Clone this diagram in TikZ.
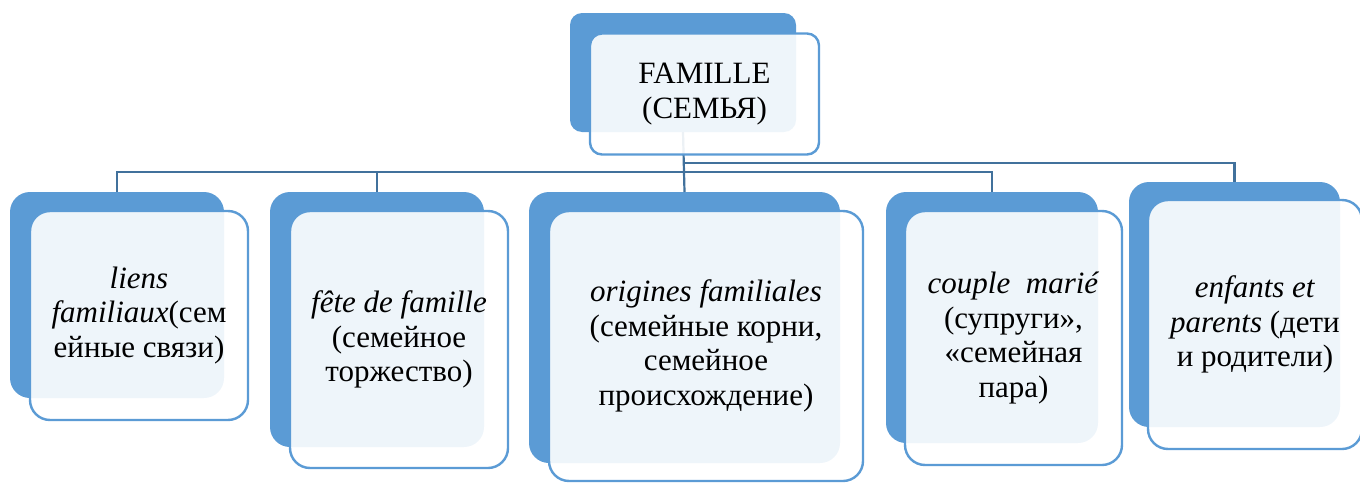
\documentclass[tikz,border=0pt]{standalone}
\usepackage{fontspec}
\setmainfont{Liberation Serif}
\definecolor{boxblue}{RGB}{91,155,213}
\definecolor{lineblue}{RGB}{65,113,156}
\tikzset{
  backbox/.style={fill=boxblue, draw=none, rounded corners=20pt, inner sep=0pt, outer sep=0pt},
  frontbox/.style={fill=white, fill opacity=0.9, text opacity=1, draw=boxblue, line width=2.4pt,
     rounded corners=20pt, inner sep=0pt, outer sep=0pt, align=center, text=black,
     font=\fontsize{31}{34.5}\selectfont},
  conn/.style={draw=lineblue, line width=2.2pt}
}
\begin{document}
\begin{tikzpicture}[x=1pt,y=-1pt]
\useasboundingbox (0,0) rectangle (1360,482);
% back boxes
\node[backbox, rounded corners=12pt, minimum width=226pt, minimum height=119pt] (b0) at (683,72.5) {};
\node[backbox, minimum width=214pt, minimum height=206pt] (b1) at (117,295) {};
\node[backbox, minimum width=214pt, minimum height=255pt] (b2) at (377,319.5) {};
\node[backbox, minimum width=311pt, minimum height=271pt] (b3) at (684.5,327.5) {};
\node[backbox, minimum width=212pt, minimum height=251pt] (b4) at (992,317.5) {};
\node[backbox, minimum width=211pt, minimum height=245pt] (b5) at (1234.5,304.5) {};
% connectors
\coordinate (bus1) at (0,172);
\coordinate (bus2) at (0,163);
\draw[conn] (b0.south) -- (b3.north);
\draw[conn] (b1.north) -- (b1.north |- bus1) -| (b4.north);
\draw[conn] (b2.north) -- (b2.north |- bus1);
\draw[conn] (b0.south |- bus2) -| (b5.north);
% front boxes
\node[frontbox, rounded corners=12pt, minimum width=229pt, minimum height=121pt] (f0) at (704.5,94) {FAMILLE\\(СЕМЬЯ)};
\node[frontbox, minimum width=218pt, minimum height=209pt] (f1) at (139,315.5) {\textit{liens}\\\textit{familiaux}(сем\\ейные связи)};
\node[frontbox, minimum width=218pt, minimum height=257pt] (f2) at (399,339.5) {\textit{fête de famille}\\(семейное\\торжество)};
\node[frontbox, minimum width=314pt, minimum height=270pt] (f3) at (706,346) {\textit{origines familiales}\\(семейные корни,\\семейное\\происхождение)};
\node[frontbox, minimum width=217pt, minimum height=254pt] (f4) at (1013.5,338) {\textit{couple\ \ marié}\\(супруги»,\\«семейная\\пара)};
\node[frontbox, minimum width=214pt, minimum height=249pt] (f5) at (1255,324.5) {\textit{enfants et}\\\textit{parents} (дети\\и родители)};
\end{tikzpicture}
\end{document}
